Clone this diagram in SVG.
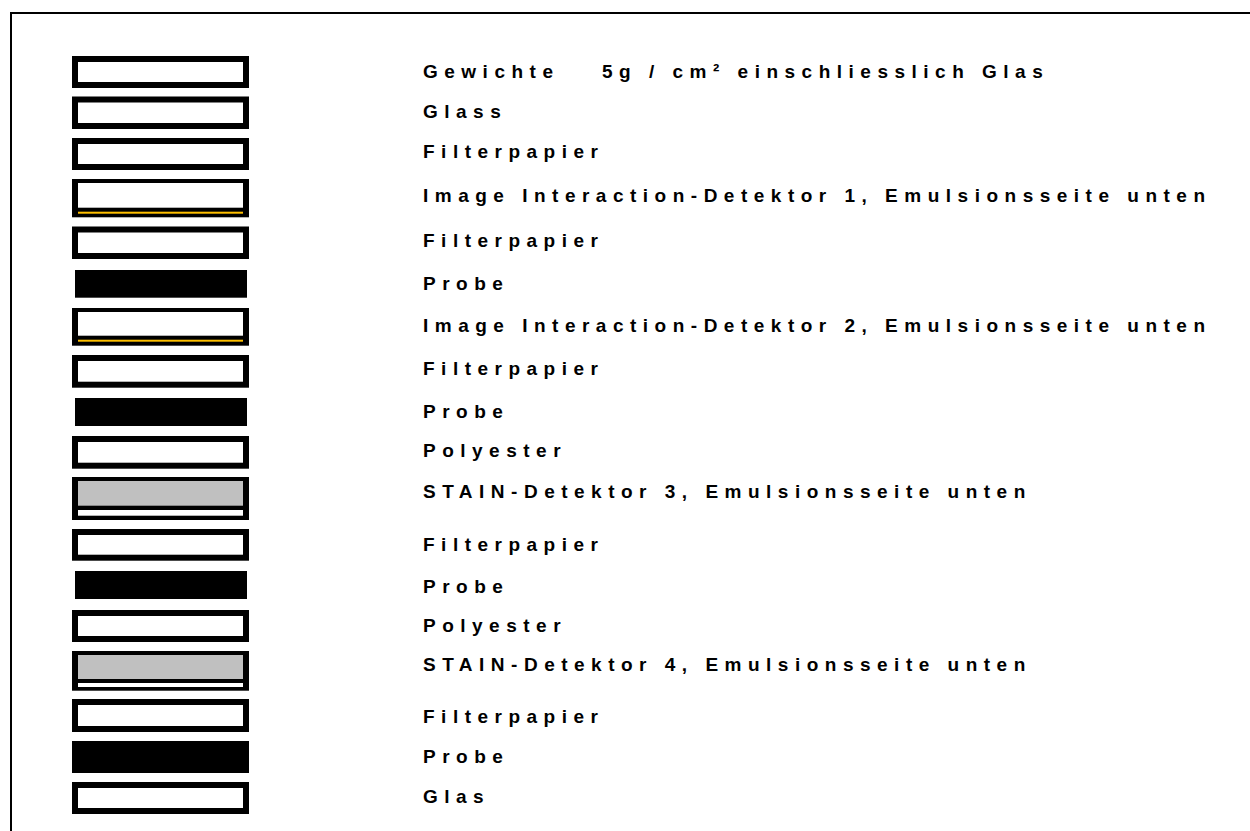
<svg xmlns="http://www.w3.org/2000/svg" width="1250" height="831" viewBox="0 0 1250 831">
<style>
.lbl{font-family:"Liberation Sans",Arial,sans-serif;font-size:19px;font-weight:bold;fill:#000;letter-spacing:6.5px}
.wb{fill:#fff;stroke:#000;stroke-width:6}
.blk{fill:#000}
.gry{fill:#C0C0C0}
.yel{fill:#FFC000}
.wht{fill:#fff}
</style>
<rect x="0" y="0" width="1250" height="831" fill="#fff"/>
<rect x="11" y="13" width="1260" height="840" fill="none" stroke="#000" stroke-width="2"/>
<g id="layer1"><rect class="wb" x="75" y="59" width="171" height="26"/><text class="lbl" x="423" y="78">Gewichte<tspan x="602">5g / cm² einschliesslich Glas</tspan></text></g>
<g id="layer2"><rect class="wb" x="75" y="99.5" width="171" height="26.5"/><text class="lbl" x="423" y="118">Glass</text></g>
<g id="layer3"><rect class="wb" x="75" y="141" width="171" height="26"/><text class="lbl" x="423" y="158">Filterpapier</text></g>
<g id="layer4"><rect class="blk" x="72" y="179" width="177" height="38.3"/><rect class="wht" x="78" y="183" width="165" height="24.7"/><rect class="yel" x="78" y="211.7" width="165" height="2"/><text class="lbl" x="423" y="202">Image Interaction-Detektor 1, Emulsionsseite unten</text></g>
<g id="layer5"><rect class="wb" x="75" y="229.5" width="171" height="26.5"/><text class="lbl" x="423" y="247">Filterpapier</text></g>
<g id="layer6"><rect class="blk" x="75" y="270" width="172" height="27.7"/><text class="lbl" x="423" y="290">Probe</text></g>
<g id="layer7"><rect class="blk" x="72" y="308" width="177" height="37.7"/><rect class="wht" x="78" y="312" width="165" height="23.7"/><rect class="yel" x="78" y="339.7" width="165" height="2"/><text class="lbl" x="423" y="332">Image Interaction-Detektor 2, Emulsionsseite unten</text></g>
<g id="layer8"><rect class="wb" x="75" y="358" width="171" height="26.7"/><text class="lbl" x="423" y="375">Filterpapier</text></g>
<g id="layer9"><rect class="blk" x="75" y="398" width="172" height="28"/><text class="lbl" x="423" y="418">Probe</text></g>
<g id="layer10"><rect class="wb" x="75" y="439" width="171" height="26.7"/><text class="lbl" x="423" y="457">Polyester</text></g>
<g id="layer11"><rect class="blk" x="72" y="477" width="177" height="43"/><rect class="gry" x="78" y="481" width="165" height="24.7"/><rect class="wht" x="78" y="510" width="165" height="5.7"/><text class="lbl" x="423" y="498">STAIN-Detektor 3, Emulsionsseite unten</text></g>
<g id="layer12"><rect class="wb" x="75" y="532" width="171" height="25.7"/><text class="lbl" x="423" y="551">Filterpapier</text></g>
<g id="layer13"><rect class="blk" x="75" y="571" width="172" height="28"/><text class="lbl" x="423" y="593">Probe</text></g>
<g id="layer14"><rect class="wb" x="75" y="613" width="171" height="26"/><text class="lbl" x="423" y="632">Polyester</text></g>
<g id="layer15"><rect class="blk" x="72" y="651" width="177" height="39.7"/><rect class="gry" x="78" y="655" width="165" height="24"/><rect class="wht" x="78" y="683" width="165" height="4"/><text class="lbl" x="423" y="671">STAIN-Detektor 4, Emulsionsseite unten</text></g>
<g id="layer16"><rect class="wb" x="75" y="702" width="171" height="27"/><text class="lbl" x="423" y="723">Filterpapier</text></g>
<g id="layer17"><rect class="blk" x="72" y="741" width="177" height="32"/><text class="lbl" x="423" y="763">Probe</text></g>
<g id="layer18"><rect class="wb" x="75" y="785" width="171" height="26"/><text class="lbl" x="423" y="803">Glas</text></g>
<g id="connectors"></g>
</svg>
